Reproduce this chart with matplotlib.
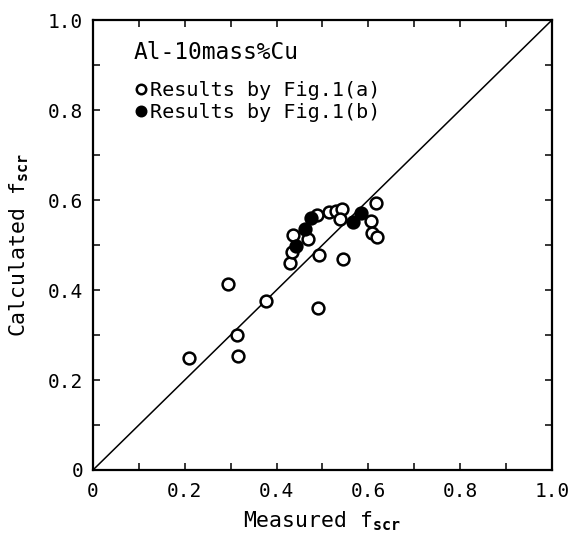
import numpy as np
import matplotlib.pyplot as plt
from matplotlib.ticker import MultipleLocator

plt.rcParams['font.family'] = ['DejaVu Sans Mono']
plt.rcParams['mathtext.fontset'] = 'custom'
plt.rcParams['mathtext.rm'] = 'DejaVu Sans Mono'
plt.rcParams['mathtext.bf'] = 'DejaVu Sans Mono:bold'

# Results by Fig.1(a)  (open circles)
meas_a = [0.210, 0.317, 0.314, 0.295, 0.377, 0.491, 0.545, 0.492, 0.429, 0.433,
          0.435, 0.469, 0.489, 0.515, 0.529, 0.542, 0.538, 0.617, 0.605, 0.607, 0.619]
calc_a = [0.250, 0.254, 0.301, 0.413, 0.376, 0.361, 0.468, 0.478, 0.459, 0.485,
          0.522, 0.513, 0.567, 0.574, 0.576, 0.581, 0.557, 0.594, 0.554, 0.527, 0.518]

# Results by Fig.1(b)  (filled circles)
meas_b = [0.442, 0.463, 0.476, 0.566, 0.585]
calc_b = [0.498, 0.535, 0.561, 0.552, 0.572]

ticks = [0, 0.2, 0.4, 0.6, 0.8, 1.0]
tick_labels = ['0', '0.2', '0.4', '0.6', '0.8', '1.0']

fig = plt.figure(figsize=(5.69, 5.35), dpi=100)
ax = fig.add_axes([0.1634, 0.1215, 0.8066, 0.841])

ax.plot([0, 1], [0, 1], color='black', lw=1.1, zorder=1)
ax.plot(meas_a, calc_a, 'o', ms=8.5, mfc='white', mec='black', mew=1.8,
        label='Results by Fig.1(a)', zorder=3)
ax.plot(meas_b, calc_b, 'o', ms=8.5, mfc='black', mec='black', mew=1.8,
        label='Results by Fig.1(b)', zorder=4)

ax.set_xlim(0, 1)
ax.set_ylim(0, 1)
ax.set_xticks(ticks)
ax.set_xticklabels(tick_labels)
ax.set_yticks(ticks)
ax.set_yticklabels(tick_labels)
ax.xaxis.set_minor_locator(MultipleLocator(0.1))
ax.yaxis.set_minor_locator(MultipleLocator(0.1))
ax.tick_params(which='both', direction='in', top=True, right=True,
               length=5, width=1.1, labelsize=14)
ax.tick_params(axis='x', pad=9)
ax.tick_params(axis='y', pad=7)
for s in ax.spines.values():
    s.set_linewidth(1.6)

ax.set_xlabel(r'Measured f$_{\mathbf{scr}}$', fontsize=15.5, labelpad=6)
ax.set_ylabel(r'Calculated f$_{\mathbf{scr}}$', fontsize=15.5, labelpad=12)

ax.text(0.089, 0.929, 'Al-10mass%Cu', transform=ax.transAxes,
        fontsize=16.5, va='center', ha='left')
ax.legend(loc='upper left', bbox_to_anchor=(0.07, 0.887), frameon=False,
          fontsize=14.5, handlelength=0.6, handletextpad=0.15,
          labelspacing=0.15, borderpad=0, markerscale=0.8)

fig.savefig('out.png', dpi=100)
